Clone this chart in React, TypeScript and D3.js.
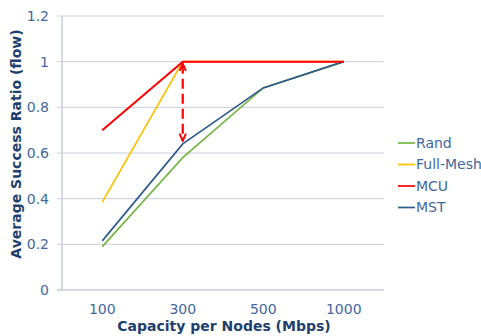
import React from "react";
import * as d3 from "d3";

const categories = ["100", "300", "500", "1000"];
const yTicks = [0, 0.2, 0.4, 0.6, 0.8, 1, 1.2];
const seriesNames = ["Rand", "Full-Mesh", "MCU", "MST"];
const seriesColors = ["#77b545", "#ffc000", "#ff0000", "#2e5b8a"];
const randValues = [0.19, 0.58, 0.885, 1.0];
const fullMeshValues = [0.385, 1.0, 1.0, 1.0];
const mcuValues = [0.7, 1.0, 1.0, 1.0];
const mstValues = [0.215, 0.64, 0.885, 1.0];
const arrowCategory = "300";
const arrowFrom = 1.0;
const arrowTo = 0.64;

const W = 481;
const H = 336;
const left = 62;
const right = 384;
const top = 16;
const bottom = 290;
const font = "'DejaVu Sans', Verdana, sans-serif";
const tickColor = "#43689c";
const titleColor = "#1f3f6e";
const gridColor = "#c9cedd";

export default function App() {
  const x = d3.scalePoint<string>().domain(categories).range([left, right]).padding(0.5);
  const y = d3.scaleLinear().domain([0, 1.2]).range([bottom, top]);
  const line = d3
    .line<number>()
    .x((_, i) => x(categories[i]) as number)
    .y((d) => y(d));
  const allSeries = [randValues, fullMeshValues, mcuValues, mstValues];
  const drawOrder = [1, 0, 3, 2];
  const ax = x(arrowCategory) as number;
  const legendY0 = 143;
  const legendStep = 21.5;

  return (
    <svg width={W} height={H} style={{ position: "absolute", left: 0, top: 0, background: "#fff" }}>
      <defs>
        <marker id="ah" viewBox="0 0 10 10" refX="9" refY="5" markerWidth="9" markerHeight="9" orient="auto-start-reverse" markerUnits="userSpaceOnUse">
          <path d="M1,1.5 L9,5 L1,8.5" fill="none" stroke="#ff0000" strokeWidth={2.2} />
        </marker>
      </defs>
      <rect x={0} y={0} width={W} height={H} fill="#fff" />
      {yTicks.map((t) => (
        <g key={t}>
          {t > 0 && <line x1={left} x2={right} y1={y(t)} y2={y(t)} stroke={gridColor} strokeWidth={1} />}
          <line x1={left - 5} x2={left} y1={y(t)} y2={y(t)} stroke={gridColor} strokeWidth={1} />
          <text x={49} y={y(t)} dy="0.35em" textAnchor="end" fontFamily={font} fontSize={14} fill={tickColor}>
            {d3.format("~g")(t)}
          </text>
        </g>
      ))}
      <line x1={left} x2={left} y1={top} y2={bottom} stroke={gridColor} strokeWidth={1.5} />
      <line x1={left - 5} x2={right} y1={bottom} y2={bottom} stroke={gridColor} strokeWidth={1.5} />
      {categories.map((c) => (
        <text key={c} x={x(c) as number} y={314} textAnchor="middle" fontFamily={font} fontSize={14} fill={tickColor}>
          {c}
        </text>
      ))}
      {drawOrder.map((i) => (
        <path key={seriesNames[i]} d={line(allSeries[i]) || ""} fill="none" stroke={seriesColors[i]} strokeWidth={i === 2 ? 2 : 1.7} />
      ))}
      <line
        x1={ax}
        x2={ax}
        y1={y(arrowFrom) + 2}
        y2={y(arrowTo) - 3}
        stroke="#ff0000"
        strokeWidth={2.2}
        strokeDasharray="10,5"
        markerStart="url(#ah)"
        markerEnd="url(#ah)"
      />
      <text x={(left + right) / 2 + 1} y={331} textAnchor="middle" fontFamily={font} fontSize={14} fontWeight="bold" fill={titleColor}>
        Capacity per Nodes (Mbps)
      </text>
      <text
        transform={`translate(21,${(top + bottom) / 2 - 9}) rotate(-90)`}
        textAnchor="middle"
        fontFamily={font}
        fontSize={14}
        fontWeight="bold"
        fill={titleColor}
      >
        Average Success Ratio (flow)
      </text>
      {seriesNames.map((n, i) => (
        <g key={n}>
          <line x1={398} x2={415} y1={legendY0 + i * legendStep} y2={legendY0 + i * legendStep} stroke={seriesColors[i]} strokeWidth={1.7} />
          <text x={416} y={legendY0 + i * legendStep} dy="0.35em" fontFamily={font} fontSize={14} fill={tickColor}>
            {n}
          </text>
        </g>
      ))}
    </svg>
  );
}
